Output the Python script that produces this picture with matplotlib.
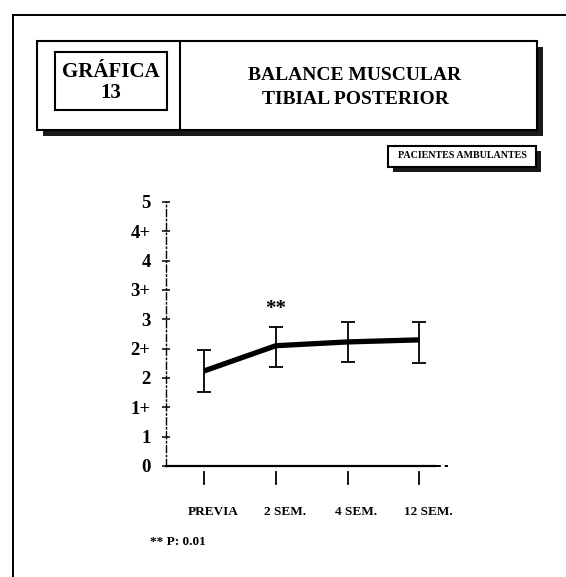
import matplotlib
matplotlib.use('Agg')
import matplotlib.pyplot as plt
from matplotlib.patches import Rectangle
import numpy as np

categories = ['PREVIA', '2 SEM.', '4 SEM.', '12 SEM.']
means = [3.24, 4.10, 4.23, 4.30]
upper = [3.96, 4.74, 4.91, 4.91]
lower = [2.53, 3.38, 3.55, 3.52]
y_labels = ['0', '1', '1+', '2', '2+', '3', '3+', '4', '4+', '5']
signif = ['', '**', '', '']

W, H = 566, 577
serif = ['Liberation Serif', 'DejaVu Serif']
plt.rcParams['font.family'] = serif


def fx(x):
    return x / W


def fy(y):
    return 1 - y / H


fig = plt.figure(figsize=(W / 100, H / 100), dpi=100)
fig.patch.set_facecolor('white')


def box(x0, y0, x1, y1, lw=1.5, shadow=0):
    if shadow:
        fig.add_artist(Rectangle((fx(x0 + shadow), fy(y1 + shadow)), fx(x1 - x0), (y1 - y0) / H,
                                 transform=fig.transFigure, facecolor='#1a1a1a', edgecolor='none', zorder=1))
    fig.add_artist(Rectangle((fx(x0), fy(y1)), fx(x1 - x0), (y1 - y0) / H,
                             transform=fig.transFigure, facecolor='white', edgecolor='black',
                             linewidth=lw, zorder=2))


# outer frame (only top and left visible)
fig.add_artist(plt.Line2D([fx(13), fx(566)], [fy(15), fy(15)], transform=fig.transFigure, color='black', lw=1.4))
fig.add_artist(plt.Line2D([fx(13), fx(13)], [fy(15), fy(577)], transform=fig.transFigure, color='black', lw=1.4))

# header
box(37, 41, 537, 130, lw=1.5, shadow=6)
fig.add_artist(plt.Line2D([fx(180), fx(180)], [fy(41), fy(130)], transform=fig.transFigure, color='black', lw=1.5, zorder=3))
box(55, 52, 167, 110, lw=1.5)
fig.text(fx(111), fy(72), 'GRÁFICA', ha='center', va='center', fontsize=15, fontweight='bold', zorder=4)
fig.text(fx(111), fy(93), '13', ha='center', va='center', fontsize=15, fontweight='bold', zorder=4)
fig.text(fx(355), fy(76), 'BALANCE MUSCULAR', ha='center', va='center', fontsize=14, fontweight='bold', zorder=4)
fig.text(fx(355), fy(99), 'TIBIAL POSTERIOR', ha='center', va='center', fontsize=14, fontweight='bold', zorder=4)

# patient group tag
box(388, 146, 536, 167, lw=1.5, shadow=5)
fig.text(fx(462), fy(156), 'PACIENTES AMBULANTES', ha='center', va='center', fontsize=7.2, fontweight='bold', zorder=4)

# chart
ax = fig.add_axes([fx(166), fy(466), fx(448 - 166), 264 / H])
x = np.arange(len(categories))
m = np.array(means)
yerr = [m - np.array(lower), np.array(upper) - m]

ax.errorbar(x, m, yerr=yerr, fmt='none', ecolor='black', elinewidth=1.3, capsize=5, capthick=1.3, zorder=3)
ax.plot(x, m, color='black', linewidth=3.8, solid_capstyle='butt', zorder=4)

for xi, top, s in zip(x, upper, signif):
    if s:
        ax.annotate(s, xy=(xi, top), xytext=(0, 8), textcoords='offset pixels',
                    ha='center', va='bottom', fontsize=15, fontweight='bold')

ax.set_xlim(-0.53, 3.40)
ax.set_ylim(0, 9)
ax.set_yticks(range(len(y_labels)))
ax.set_yticklabels(y_labels, fontsize=13.5, fontweight='bold')
ax.tick_params(axis='y', direction='inout', length=6, width=1.1, pad=8)
ax.set_xticks([])

for side in ['top', 'right']:
    ax.spines[side].set_visible(False)
ax.spines['left'].set_linestyle((0, (5, 2, 1, 2)))
ax.spines['left'].set_linewidth(1.0)
ax.spines['bottom'].set_linewidth(1.6)
ax.spines['bottom'].set_bounds(-0.53, 3.22)
ax.plot([3.22, 3.40], [0, 0], color='black', lw=1.4, linestyle=(0, (3, 2)), clip_on=False)

# category tick marks and labels below the axis
for xi, lab in zip(x, categories):
    ax.plot([xi, xi], [-0.2, -0.6], color='black', lw=1.3, clip_on=False)
    ax.annotate(lab, xy=(xi, 0), xytext=(9, -46), textcoords='offset pixels',
                ha='center', va='center', fontsize=9.5, fontweight='bold', annotation_clip=False)

fig.text(fx(150), fy(542), '** P: 0.01', ha='left', va='center', fontsize=9.5, fontweight='bold')

fig.savefig('out.png', dpi=100)
